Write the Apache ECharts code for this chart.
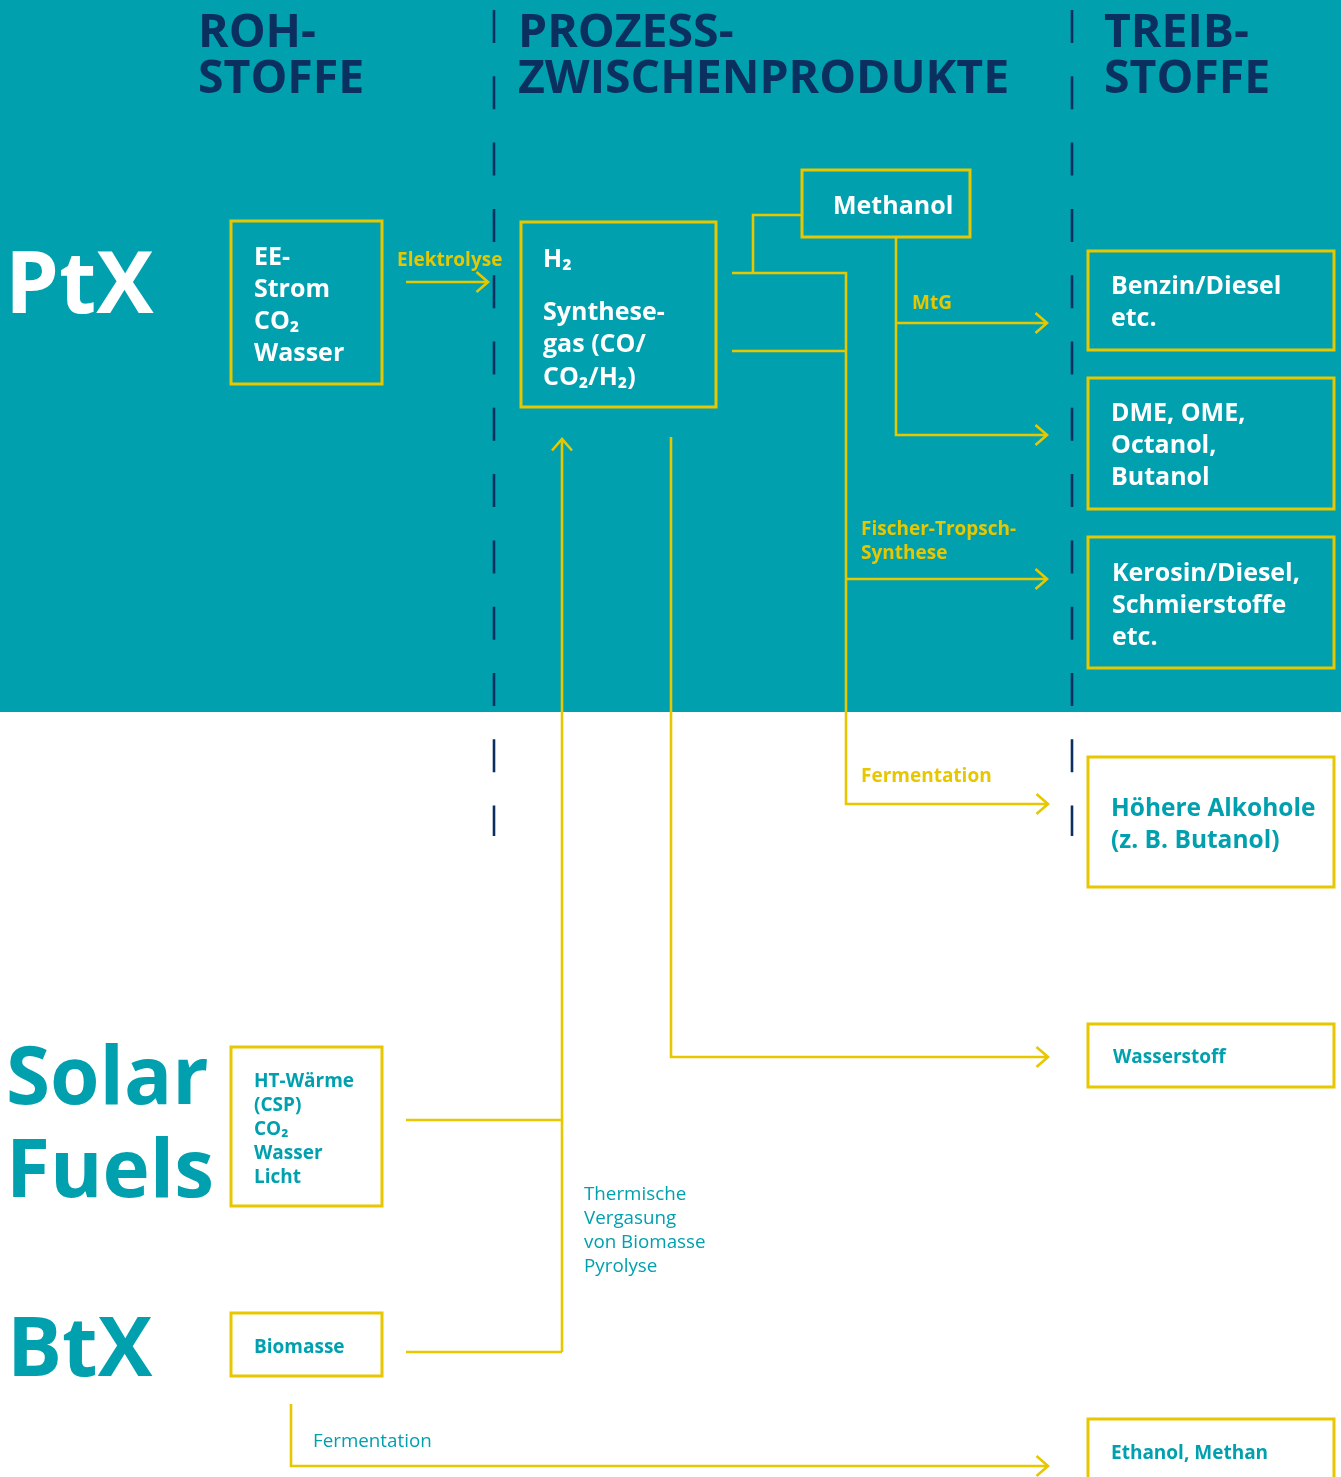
<!DOCTYPE html>
<html>
<head>
<meta charset="utf-8">
<script src="https://cdn.jsdelivr.net/npm/echarts@6/dist/echarts.min.js"></script>
<style>
html,body{margin:0;padding:0;background:#ffffff;}
#chart{width:1341px;height:1477px;}
</style>
</head>
<body>
<div id="chart"></div>
<script>
// ================= DATA (content) =================
const columnHeaders = ['ROH-\nSTOFFE', 'PROZESS-\nZWISCHENPRODUKTE', 'TREIB-\nSTOFFE'];
const pathways = ['PtX', 'Solar\nFuels', 'BtX'];
const rawMaterials = ['EE-\nStrom\nCO₂\nWasser', 'HT-Wärme\n(CSP)\nCO₂\nWasser\nLicht', 'Biomasse'];
const intermediates = ['H₂', 'Synthese-\ngas (CO/\nCO₂/H₂)', 'Methanol'];
const fuels = ['Benzin/Diesel\netc.', 'DME, OME,\nOctanol,\nButanol', 'Kerosin/Diesel,\nSchmierstoffe\netc.',
               'Höhere Alkohole\n(z. B. Butanol)', 'Wasserstoff', 'Ethanol, Methan'];
const processes = ['Elektrolyse', 'MtG', 'Fischer-Tropsch-\nSynthese', 'Fermentation',
                   'Thermische\nVergasung\nvon Biomasse\nPyrolyse', 'Fermentation'];

// ================= LAYOUT (diagram coordinates, px of the 1341x1477 canvas) =================
const W = 1341, H = 1477;
const C = { teal: '#00A0AF', navy: '#0B2F5F', yellow: '#E6C700', white: '#FFFFFF' };
const FONT = "'Open Sans', 'Noto Sans', sans-serif";

const bandRect = [[0, 0, W, 712]];                 // teal PtX band
const dividers = [[494, 10, 494, 836], [1072, 10, 1072, 836]];

const boxRects = [
  [231, 221, 382, 384],   // EE-Strom
  [231, 1047, 382, 1206], // HT-Wärme
  [231, 1313, 382, 1376], // Biomasse
  [521, 222, 716, 407],   // H2 / Synthesegas
  [802, 170, 970, 237],   // Methanol
  [1088, 251, 1334, 350], // Benzin/Diesel
  [1088, 378, 1334, 509], // DME
  [1088, 537, 1334, 668], // Kerosin
  [1088, 757, 1334, 887], // Höhere Alkohole
  [1088, 1024, 1334, 1087], // Wasserstoff
  [1088, 1419, 1334, 1500]  // Ethanol, Methan (cut off)
];

const connectors = [
  { pts: [[406, 282], [488, 282]], arrow: true },
  { pts: [[732, 273], [846, 273], [846, 804], [1048, 804]], arrow: true },
  { pts: [[753, 273], [753, 215], [802, 215]], arrow: false },
  { pts: [[732, 351], [846, 351]], arrow: false },
  { pts: [[846, 579], [1047, 579]], arrow: true },
  { pts: [[896, 237], [896, 435], [1047, 435]], arrow: true },
  { pts: [[896, 323], [1047, 323]], arrow: true },
  { pts: [[671, 437], [671, 1057], [1048, 1057]], arrow: true },
  { pts: [[562, 1352], [562, 439]], arrow: true },
  { pts: [[406, 1120], [562, 1120]], arrow: false },
  { pts: [[406, 1352], [562, 1352]], arrow: false },
  { pts: [[291, 1404], [291, 1466], [1048, 1466]], arrow: true }
];

const styles = {
  header:   { size: 46.4, weight: 'bold', color: C.navy, lh: 46 },
  ptx:      { size: 86, weight: 'bold', color: C.white, lh: 93 },
  big:      { size: 80, weight: 'bold', color: C.teal, lh: 93 },
  btx:      { size: 82, weight: 'bold', color: C.teal, lh: 93 },
  boxW:     { size: 25, weight: 'bold', color: C.white, lh: 32 },
  boxW2:    { size: 25, weight: 'bold', color: C.white, lh: 32.5 },
  boxT:     { size: 24.5, weight: 'bold', color: C.teal, lh: 32.5 },
  smallT:   { size: 19, weight: 'bold', color: C.teal, lh: 24 },
  procY:    { size: 19, weight: 'bold', color: C.yellow, lh: 24 },
  procT:    { size: 18.8, weight: 'normal', color: C.teal, lh: 24 }
};

// [text, x (left), y (centre of first line), style]
const texts = [
  [columnHeaders[0], 198, 31, 'header'],
  [columnHeaders[1], 518, 31, 'header'],
  [columnHeaders[2], 1104, 31, 'header'],
  [pathways[0], 5, 282, 'ptx'],
  [pathways[1], 6, 1076, 'big'],
  [pathways[2], 7, 1347, 'btx'],
  [rawMaterials[0], 254, 256, 'boxW'],
  [rawMaterials[1], 254, 1080, 'smallT'],
  [rawMaterials[2], 254, 1346, 'smallT'],
  [intermediates[0], 543, 258, 'boxW'],
  [intermediates[1], 543, 311, 'boxW2'],
  [intermediates[2], 833, 205, 'boxW'],
  [fuels[0], 1111, 285, 'boxW'],
  [fuels[1], 1111, 412, 'boxW'],
  [fuels[2], 1112, 572, 'boxW'],
  [fuels[3], 1111, 807, 'boxT'],
  [fuels[4], 1113, 1056, 'smallT'],
  [fuels[5], 1111, 1452, 'smallT'],
  [processes[0], 397, 259, 'procY'],
  [processes[1], 912, 302, 'procY'],
  [processes[2], 861, 528, 'procY'],
  [processes[3], 861, 775, 'procY'],
  [processes[4], 584, 1193, 'procT'],
  [processes[5], 313, 1440, 'procT']
];

// ================= RENDER =================
const chart = echarts.init(document.getElementById('chart'), null, { renderer: 'canvas' });

const option = {
  animation: false,
  backgroundColor: '#ffffff',
  grid: { left: 0, right: 0, top: 0, bottom: 0 },
  xAxis: { type: 'value', min: 0, max: W, show: false },
  yAxis: { type: 'value', min: 0, max: H, inverse: true, show: false },
  series: [
    { // teal band
      type: 'custom', z: 1, clip: false, silent: true,
      data: bandRect,
      renderItem: function (params, api) {
        const a = api.coord([api.value(0), api.value(1)]);
        const b = api.coord([api.value(2), api.value(3)]);
        return { type: 'rect', shape: { x: a[0], y: a[1], width: b[0] - a[0], height: b[1] - a[1] },
                 style: { fill: C.teal } };
      }
    },
    { // dashed dividers
      type: 'custom', z: 2, clip: false, silent: true,
      data: dividers,
      renderItem: function (params, api) {
        const a = api.coord([api.value(0), api.value(1)]);
        const b = api.coord([api.value(2), api.value(3)]);
        return { type: 'line', shape: { x1: a[0], y1: a[1], x2: b[0], y2: b[1] },
                 style: { stroke: C.navy, lineWidth: 2.6, lineDash: [33, 33.3], lineCap: 'butt' } };
      }
    },
    { // connectors with arrows
      type: 'custom', z: 3, clip: false, silent: true,
      data: connectors.map(c => c.pts[0]),
      renderItem: function (params, api) {
        const c = connectors[params.dataIndex];
        const pts = c.pts.map(p => api.coord(p));
        const children = [{ type: 'polyline', shape: { points: pts },
          style: { stroke: C.yellow, lineWidth: 2.6, fill: null, lineJoin: 'miter', lineCap: 'butt' } }];
        if (c.arrow) {
          const t = pts[pts.length - 1], s = pts[pts.length - 2];
          let dx = t[0] - s[0], dy = t[1] - s[1];
          const L = Math.hypot(dx, dy); dx /= L; dy /= L;
          const nx = -dy, ny = dx;
          const back = 11.5, spread = 10;
          children.push({ type: 'polyline', shape: { points: [
            [t[0] - dx * back + nx * spread, t[1] - dy * back + ny * spread],
            [t[0], t[1]],
            [t[0] - dx * back - nx * spread, t[1] - dy * back - ny * spread]] },
            style: { stroke: C.yellow, lineWidth: 2.6, fill: null, lineJoin: 'miter' } });
        }
        return { type: 'group', children: children };
      }
    },
    { // boxes
      type: 'custom', z: 4, clip: false, silent: true,
      data: boxRects,
      renderItem: function (params, api) {
        const a = api.coord([api.value(0), api.value(1)]);
        const b = api.coord([api.value(2), api.value(3)]);
        return { type: 'rect', shape: { x: a[0], y: a[1], width: b[0] - a[0], height: b[1] - a[1] },
                 style: { fill: null, stroke: C.yellow, lineWidth: 3 } };
      }
    },
    { // texts
      type: 'custom', z: 5, clip: false, silent: true,
      data: texts.map(t => [t[1], t[2]]),
      renderItem: function (params, api) {
        const t = texts[params.dataIndex];
        const st = styles[t[3]];
        const lines = t[0].split('\n');
        const children = lines.map(function (ln, i) {
          const p = api.coord([t[1], t[2] + i * st.lh]);
          return { type: 'text', x: p[0], y: p[1] + st.size * 0.07,
                   style: { text: ln, fill: st.color, fontSize: st.size, fontWeight: st.weight,
                            fontFamily: FONT, align: 'left', verticalAlign: 'middle' } };
        });
        return { type: 'group', children: children };
      }
    }
  ]
};
chart.setOption(option);
</script>
</body>
</html>
